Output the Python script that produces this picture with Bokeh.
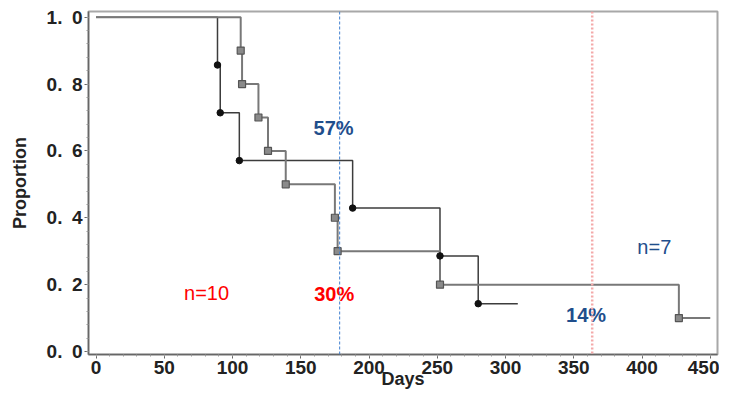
from bokeh.plotting import figure
from bokeh.models import Range1d, Span, SingleIntervalTicker, ColumnDataSource, CustomJSTickFormatter
from bokeh.embed import file_html
from bokeh.resources import INLINE
from bokeh.core.properties import value

# Group A (black, filled circles)
a_days = [0, 89, 91, 105, 188, 252, 280, 309]
a_prop = [1.0, 0.857, 0.714, 0.571, 0.429, 0.286, 0.143, 0.143]
# Group B (gray, squares)
b_days = [0, 106, 107, 119, 126, 139, 175, 177, 252, 427, 450]
b_prop = [1.0, 0.9, 0.8, 0.7, 0.6, 0.5, 0.4, 0.3, 0.2, 0.1, 0.1]

# reference lines (days)
ref_blue = 178.5
ref_red = 363.5

# annotations
ann_text = ["57%", "30%", "14%", "n=10", "n=7"]
ann_x = [174, 174.5, 359, 81, 409]
ann_y = [0.67, 0.173, 0.108, 0.174, 0.312]
ann_color = ["#1f4e8c", "#ff0000", "#1f4e8c", "#ff0000", "#1f4e8c"]
ann_style = ["bold", "bold", "bold", "normal", "normal"]

font = "Liberation Sans"

p = figure(width=719, height=395, output_backend="svg", toolbar_location=None,
           x_range=Range1d(-5.5, 455.3), y_range=Range1d(-0.009, 1.017),
           min_border_left=88, min_border_right=2, min_border_top=11, min_border_bottom=41)
p.background_fill_color = "white"
p.border_fill_color = "white"
p.outline_line_color = "#a8a8a8"
p.outline_line_width = 2
p.xgrid.visible = False
p.ygrid.visible = False

p.xaxis.ticker = SingleIntervalTicker(interval=50, num_minor_ticks=5)
p.yaxis.ticker = SingleIntervalTicker(interval=0.2, num_minor_ticks=5)
p.yaxis.formatter = CustomJSTickFormatter(code="return tick.toFixed(1).replace('.', '.\u2002');")

for ax in (p.xaxis[0], p.yaxis[0]):
    ax.axis_line_color = "#666666"
    ax.axis_line_width = 1.5
    ax.major_tick_line_color = "#666666"
    ax.minor_tick_line_color = "#999999"
    ax.major_tick_out = 4
    ax.major_tick_in = 0
    ax.minor_tick_out = 2
    ax.minor_tick_in = 0
    ax.major_label_text_font = font
    ax.major_label_text_font_style = "bold"
    ax.major_label_text_font_size = "19px"
    ax.major_label_text_color = "#222222"
    ax.axis_label_text_font = font
    ax.axis_label_text_font_style = "bold"
    ax.axis_label_text_font_size = "18px"
    ax.axis_label_text_color = "#222222"

p.xaxis.axis_label = "Days"
p.yaxis.axis_label = "Proportion"
p.xaxis.major_label_standoff = 2
p.xaxis.axis_label_standoff = -8
p.yaxis.major_label_standoff = 2
p.yaxis.axis_label_standoff = 14

p.add_layout(Span(location=ref_blue, dimension="height", line_color="#3f7fd0",
                  line_width=1, line_dash="3 2"))
p.add_layout(Span(location=ref_red, dimension="height", line_color="#f4aaaa",
                  line_width=2.5, line_dash="2 2"))

p.step(a_days, a_prop, mode="after", line_color="#3c3c3c", line_width=1.5)
p.step(b_days, b_prop, mode="after", line_color="#787878", line_width=2)

p.scatter(b_days[1:-1], b_prop[1:-1], marker="square", size=7,
          fill_color="#8a8a8a", line_color="#555555", line_width=1.2)
p.scatter(a_days[1:-1], a_prop[1:-1], marker="circle", size=6.5,
          fill_color="#111111", line_color="#111111")

src = ColumnDataSource(dict(x=ann_x, y=ann_y, t=ann_text, c=ann_color, s=ann_style))
p.text(x="x", y="y", text="t", text_color="c", text_font_style="s", source=src,
       text_font=value("Liberation Sans"), text_font_size="20px",
       text_align="center", text_baseline="middle")

open("out.html", "w").write(file_html(p, INLINE))
